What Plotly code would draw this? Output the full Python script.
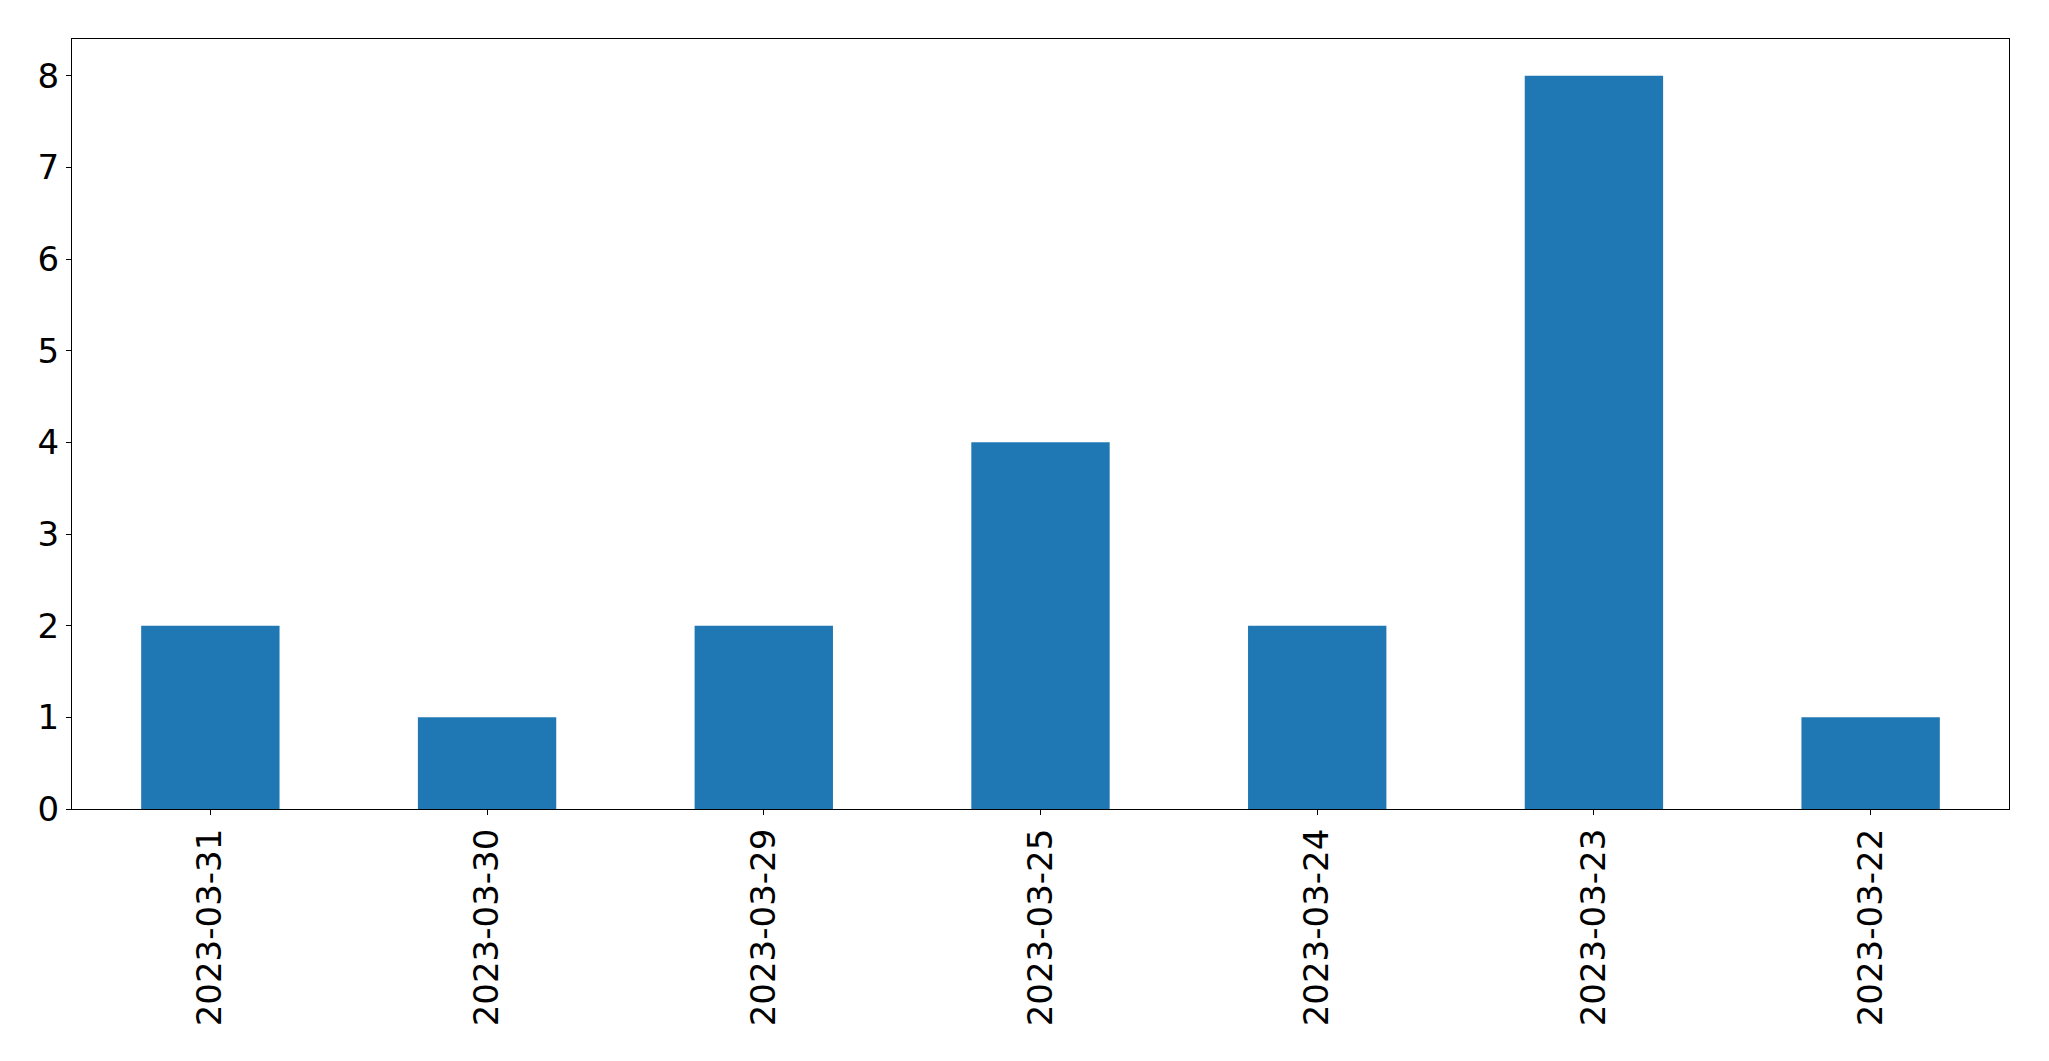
import plotly.graph_objects as go

dates = ["2023-03-31", "2023-03-30", "2023-03-29", "2023-03-25", "2023-03-24", "2023-03-23", "2023-03-22"]
counts = [2, 1, 2, 4, 2, 8, 1]
y_ticks = [0, 1, 2, 3, 4, 5, 6, 7, 8]

fig = go.Figure(go.Bar(x=dates, y=counts, marker=dict(color="#1f77b4", line=dict(width=0))))

# page body has an 8px margin, so the figure is sized and offset to compensate
fig.update_layout(
    width=2041, height=1053,
    margin=dict(l=64, r=40, t=31, b=252),
    paper_bgcolor="white", plot_bgcolor="white",
    bargap=0.5,
    showlegend=False,
    font=dict(family="DejaVu Sans", size=34, color="black"),
)
fig.update_xaxes(
    type="category", range=[-0.5, 6.5],
    tickangle=-90, ticks="outside", ticklen=5, tickwidth=1.2, tickcolor="black",
    showline=True, linecolor="black", linewidth=1.2, mirror=True,
    showgrid=False, zeroline=False,
    tickfont=dict(family="DejaVu Sans", size=34, color="black"),
)
fig.update_yaxes(
    range=[0, 8.4], tickvals=y_ticks,
    ticks="outside", ticklen=5, tickwidth=1.2, tickcolor="black",
    showline=True, linecolor="black", linewidth=1.2, mirror=True,
    showgrid=False, zeroline=False,
    tickfont=dict(family="DejaVu Sans", size=34, color="black"),
)

fig.write_html("out.html")
